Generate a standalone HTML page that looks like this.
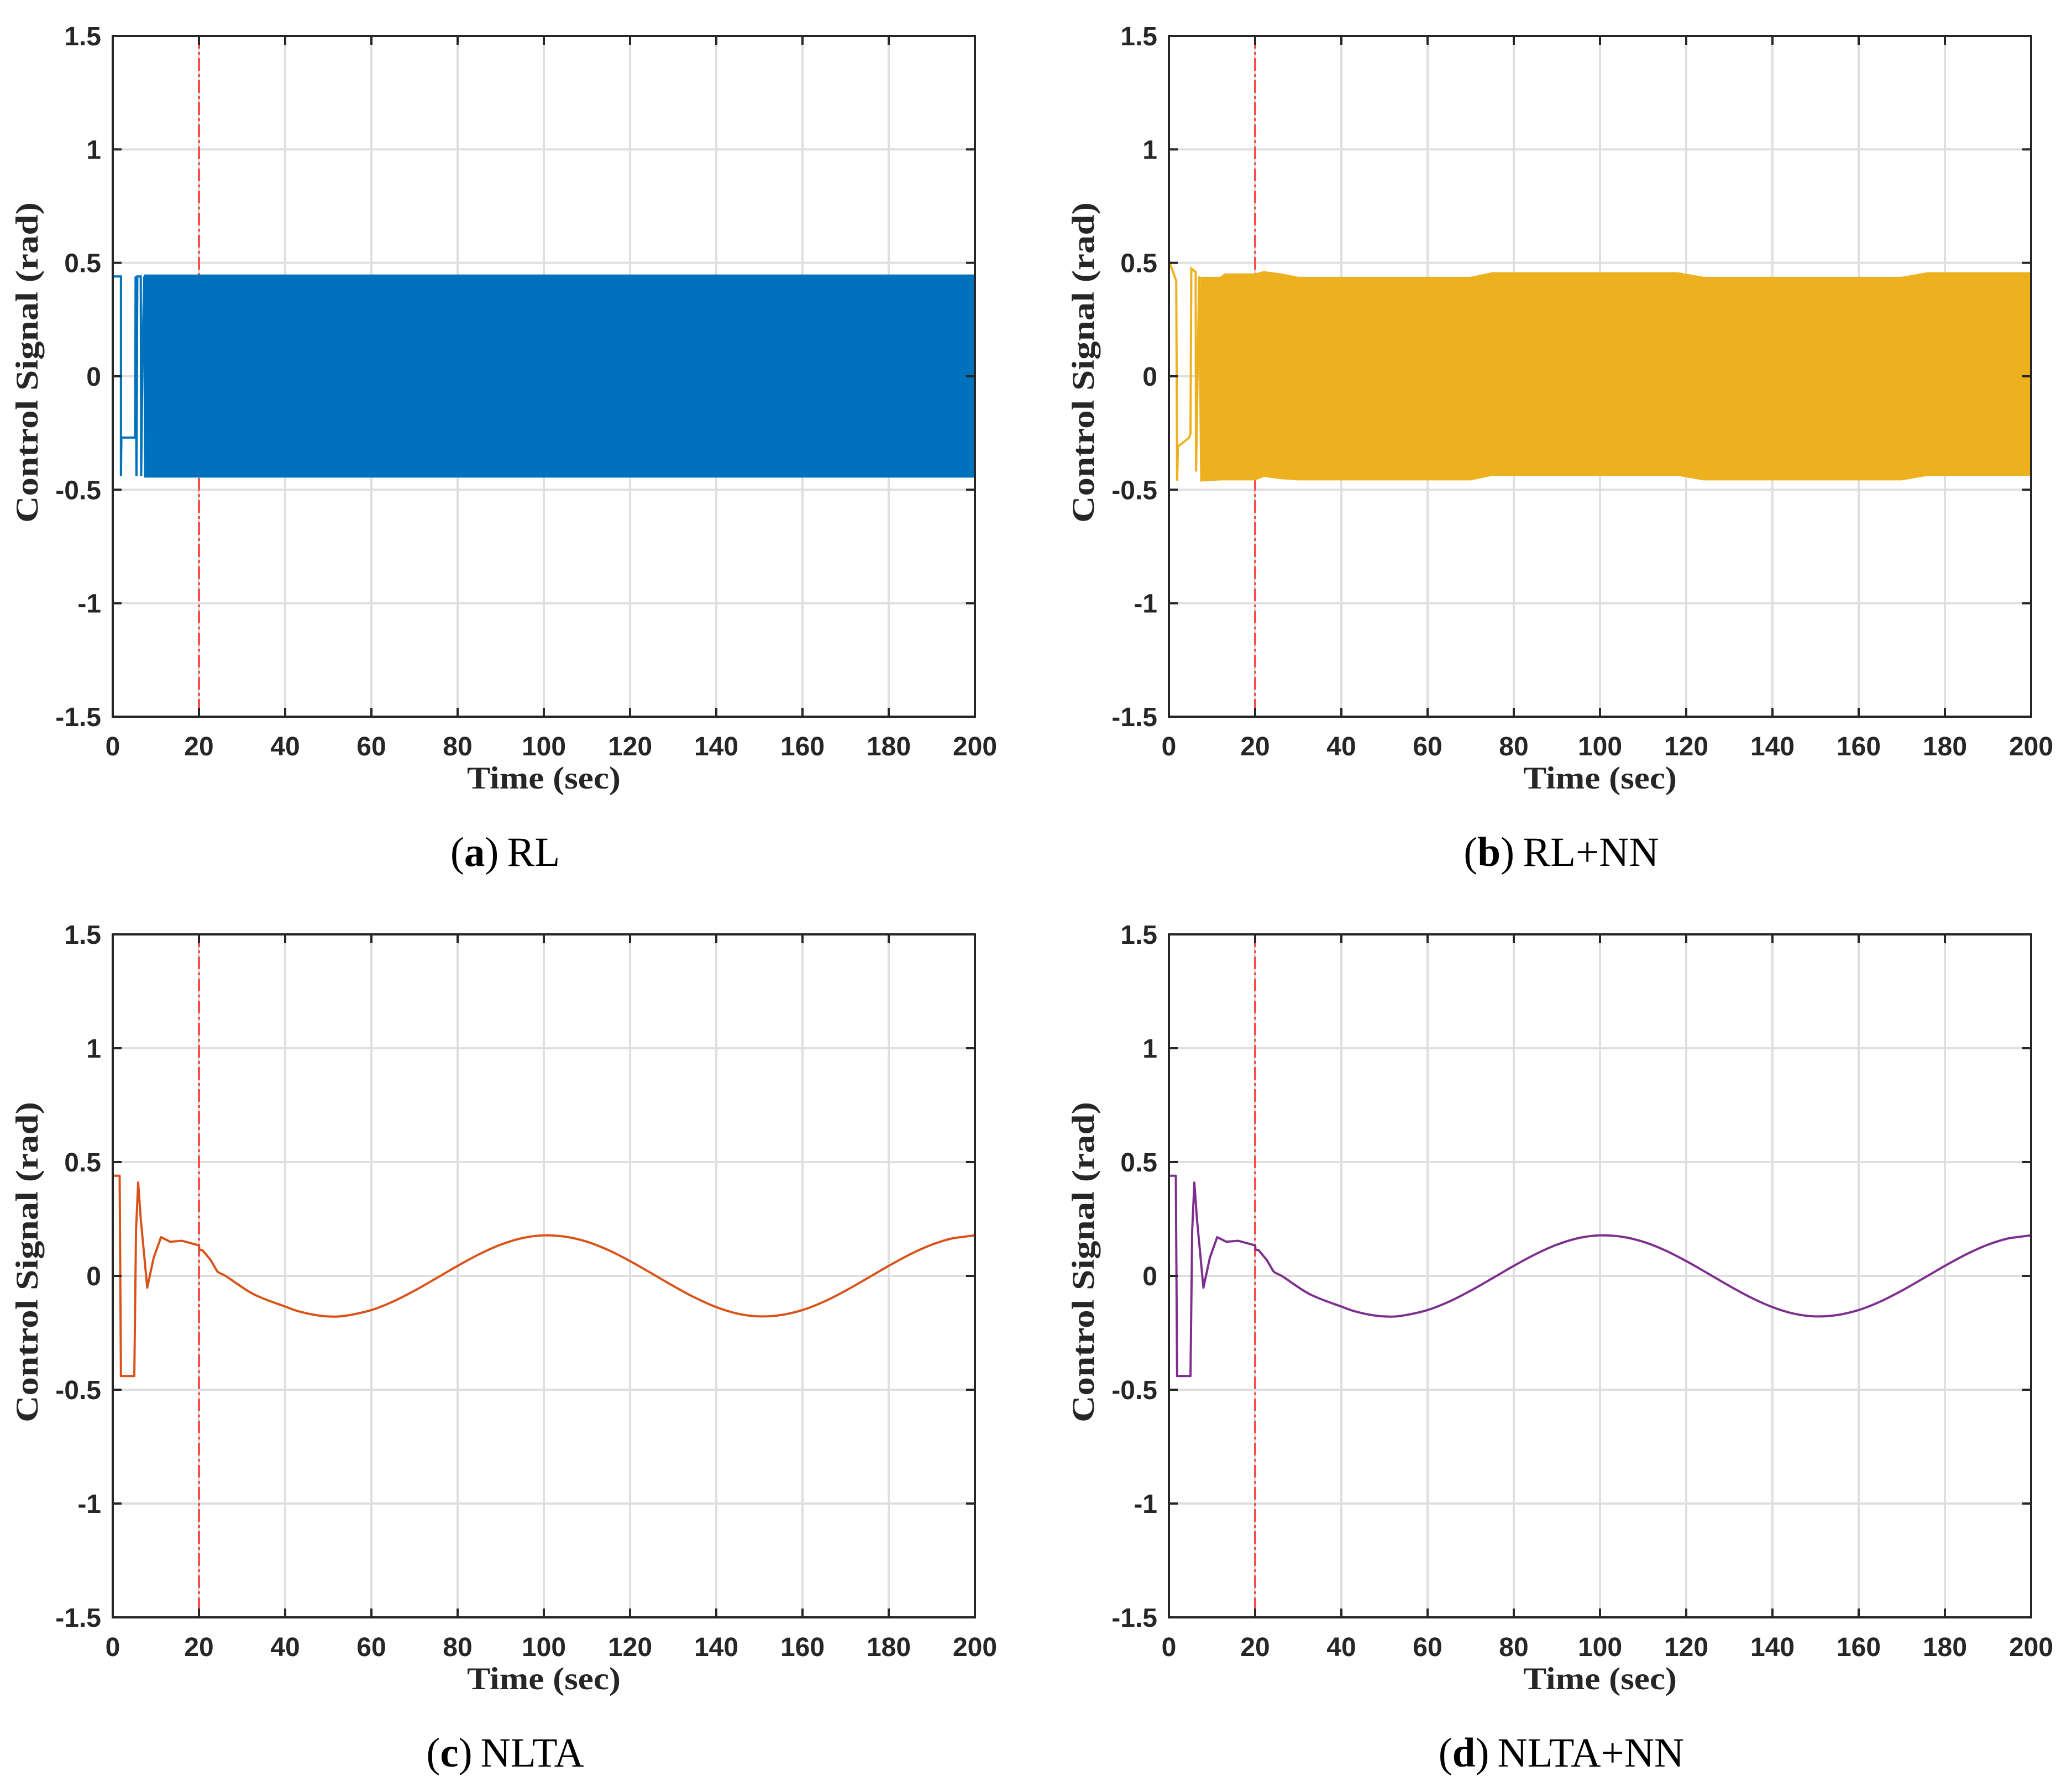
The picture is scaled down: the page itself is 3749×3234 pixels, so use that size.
<!DOCTYPE html>
<html><head><meta charset="utf-8"><style>
html,body{margin:0;padding:0;background:#fff;}
svg{display:block;}
.tick{font-family:"Liberation Sans",sans-serif;font-weight:bold;font-size:48px;fill:#262626;}
.lab{font-family:"Liberation Serif",serif;font-weight:bold;font-size:57px;fill:#262626;}
.cap{font-family:"Liberation Serif",serif;font-size:75px;fill:#000;}
</style></head><body>
<svg id="fig" xmlns="http://www.w3.org/2000/svg" width="3749" height="3234" viewBox="0 0 3749 3234">
<rect width="3749" height="3234" fill="#fff"/>
</svg>
<script>
// shared axis ticks
const xTicks = [0,20,40,60,80,100,120,140,160,180,200];
const yTicks = [1.5,1,0.5,0,-0.5,-1,-1.5];
const yTickLabels = ["1.5","1","0.5","0","-0.5","-1","-1.5"];
const markerTime = 20;

// Panel (a) RL: early switching trace + chattering band
const aEarlyT = [0,0,1.9,1.9,2.0,5.2,5.3,5.5,5.7,6.5,6.6,6.9,7.3,7.5];
const aEarlyV = [-0.44,0.44,0.44,-0.44,-0.27,-0.27,0.44,-0.44,0.44,0.44,-0.44,0.1,0.44,-0.44];
const aBandT = [7.5,200];
const aBandUpper = [0.445,0.445];
const aBandLower = [-0.443,-0.443];

// Panel (b) RL+NN
const bEarlyT = [0,0,0.2,1.7,1.9,2.1,4.7,5.0,5.2,6.2,6.3,7.0,7.5];
const bEarlyV = [-0.41,0.49,0.5,0.42,-0.46,-0.31,-0.27,-0.25,0.475,0.46,-0.42,0.44,-0.46];
const bBandT = [7.5,12,13,20,22,26,30,70,75,118,124,170,176,200];
const bBandUpper = [0.435,0.435,0.45,0.45,0.46,0.45,0.435,0.435,0.455,0.455,0.435,0.435,0.455,0.455];
const bBandLower = [-0.46,-0.455,-0.455,-0.455,-0.44,-0.45,-0.455,-0.455,-0.435,-0.435,-0.455,-0.455,-0.435,-0.435];

// Panels (c) NLTA and (d) NLTA+NN
const cT = [0,0,1.6,1.9,5.0,5.4,5.9,6.5,8.0,9.5,11.2,13.3,16.1,20,20.1,20.8,22.7,24.2,26.4,31.5,35,39.6,43,47.3,51.6,55,60,65,70,75,80,85,90,95,100,105,110,115,120,125,130,135,140,145,150,155,160,165,170,175,180,185,190,195,200];
const cV = [-0.44,0.44,0.44,-0.44,-0.44,0.2,0.41,0.25,-0.052,0.08,0.17,0.15,0.154,0.134,0.114,0.113,0.07,0.021,-0.003,-0.068,-0.1,-0.132,-0.155,-0.173,-0.179,-0.172,-0.150,-0.113,-0.065,-0.011,0.044,0.095,0.137,0.166,0.178,0.172,0.150,0.113,0.065,0.011,-0.044,-0.095,-0.137,-0.166,-0.178,-0.172,-0.150,-0.113,-0.065,-0.011,0.044,0.095,0.137,0.166,0.178];
const dT = cT.slice();
const dV = cV.slice();

const NS = "http://www.w3.org/2000/svg";
const svg = document.getElementById('fig');
function mk(tag, attrs, parent){
  const e = document.createElementNS(NS, tag);
  for (const k in attrs) e.setAttribute(k, attrs[k]);
  (parent||svg).appendChild(e);
  return e;
}

function panel(id, L, R, T, B, color, caption, capBold, capRest, drawFn){
  const g = mk('g', {});
  
  
  const sx = t => L + (t - 0) / 200 * (R - L);
  const sy = v => T + (1.5 - v) / 3 * (B - T);
  xTicks.forEach(t => {
    const l = mk('line', {x1:sx(t), x2:sx(t), y1:T, y2:B, stroke:'#dfdfdf', 'stroke-width':4}, g);
    
    
  });
  yTicks.forEach(v => {
    const l = mk('line', {x1:L, x2:R, y1:sy(v), y2:sy(v), stroke:'#dfdfdf', 'stroke-width':4}, g);
    
    
  });
  const m = mk('line', {x1:sx(markerTime), x2:sx(markerTime), y1:T, y2:B, stroke:'#ff4d4d', 'stroke-width':4, 'stroke-dasharray':'23 6 5 6'}, g);
  
  
  drawFn(g, sx, sy, color);
  const box = mk('rect', {x:L, y:T, width:R-L, height:B-T, fill:'none', stroke:'#262626', 'stroke-width':4}, g);
  
  
  xTicks.forEach(t => {
    mk('line', {x1:sx(t), x2:sx(t), y1:B, y2:B-16, stroke:'#262626', 'stroke-width':4}, g);
    mk('line', {x1:sx(t), x2:sx(t), y1:T, y2:T+16, stroke:'#262626', 'stroke-width':4}, g);
    const tx = mk('text', {x:sx(t), y:B+70, 'text-anchor':'middle', class:'tick'}, g);
    tx.textContent = String(t);
    
    
  });
  yTicks.forEach((v,i) => {
    mk('line', {x1:L, x2:L+16, y1:sy(v), y2:sy(v), stroke:'#262626', 'stroke-width':4}, g);
    mk('line', {x1:R, x2:R-16, y1:sy(v), y2:sy(v), stroke:'#262626', 'stroke-width':4}, g);
    const ty = mk('text', {x:L-21, y:sy(v)+17, 'text-anchor':'end', class:'tick'}, g);
    ty.textContent = yTickLabels[i];
    
    
  });
  const xl = mk('text', {x:(L+R)/2, y:B+130, 'text-anchor':'middle', class:'lab', textLength:278, lengthAdjust:'spacingAndGlyphs'}, g);
  xl.textContent = 'Time (sec)';
  
  
  const yl = mk('text', {x:0, y:0, 'text-anchor':'middle', class:'lab', textLength:580, lengthAdjust:'spacingAndGlyphs', transform:'translate(' + (L-136) + ',' + ((T+B)/2 - 25) + ') rotate(-90)'}, g);
  yl.textContent = 'Control Signal (rad)';
  
  
  const cap = mk('text', {x:(L+R)/2 - 70, y:B+270, 'text-anchor':'middle', class:'cap'}, g);
  
  
  const t1 = mk('tspan', {}, cap); t1.textContent = '(';
  const t2 = mk('tspan', {'font-weight':'bold'}, cap); t2.textContent = capBold;
  const t3 = mk('tspan', {}, cap); t3.textContent = ')\u2009' + capRest;
}

function drawBand(earlyT, earlyV, bandT, up, lo){
  return function(g, sx, sy, color){
    const pts = earlyT.map((t,i) => sx(t) + ',' + sy(earlyV[i])).join(' ');
    const pl = mk('polyline', {points:pts, fill:'none', stroke:color, 'stroke-width':4}, g);
    
    
    const top = bandT.map((t,i) => sx(t) + ',' + sy(up[i]));
    const bot = bandT.map((t,i) => sx(t) + ',' + sy(lo[i])).reverse();
    const pg = mk('polygon', {points:top.concat(bot).join(' '), fill:color, stroke:color, 'stroke-width':3}, g);
    
    
  };
}
function drawLine(T, V){
  return function(g, sx, sy, color){
    const P = T.map((t,i) => [sx(t), sy(V[i]), t]);
    let d = 'M' + P[0][0] + ',' + P[0][1];
    for (let i = 1; i < P.length; i++) {
      const a = P[i-1], b = P[i];
      if (a[2] >= 24 && i >= 2 && i < P.length - 1) {
        const p0 = P[i-2], p3 = P[i+1];
        const c1x = a[0] + (b[0]-p0[0])/6, c1y = a[1] + (b[1]-p0[1])/6;
        const c2x = b[0] - (p3[0]-a[0])/6, c2y = b[1] - (p3[1]-a[1])/6;
        d += ' C' + c1x + ',' + c1y + ' ' + c2x + ',' + c2y + ' ' + b[0] + ',' + b[1];
      } else {
        d += ' L' + b[0] + ',' + b[1];
      }
    }
    const pl = mk('path', {d:d, fill:'none', stroke:color, 'stroke-width':4, 'stroke-linejoin':'round'}, g);
    
    
  };
}

panel('a', 204, 1764, 65, 1297, '#0072bd', '', 'a', 'RL', drawBand(aEarlyT, aEarlyV, aBandT, aBandUpper, aBandLower));
panel('b', 2115, 3675, 65, 1297, '#edb120', '', 'b', 'RL+NN', drawBand(bEarlyT, bEarlyV, bBandT, bBandUpper, bBandLower));
panel('c', 204, 1764, 1691, 2927, '#d95319', '', 'c', 'NLTA', drawLine(cT, cV));
panel('d', 2115, 3675, 1691, 2927, '#7e2f8e', '', 'd', 'NLTA+NN', drawLine(dT, dV));
</script>
</body></html>
